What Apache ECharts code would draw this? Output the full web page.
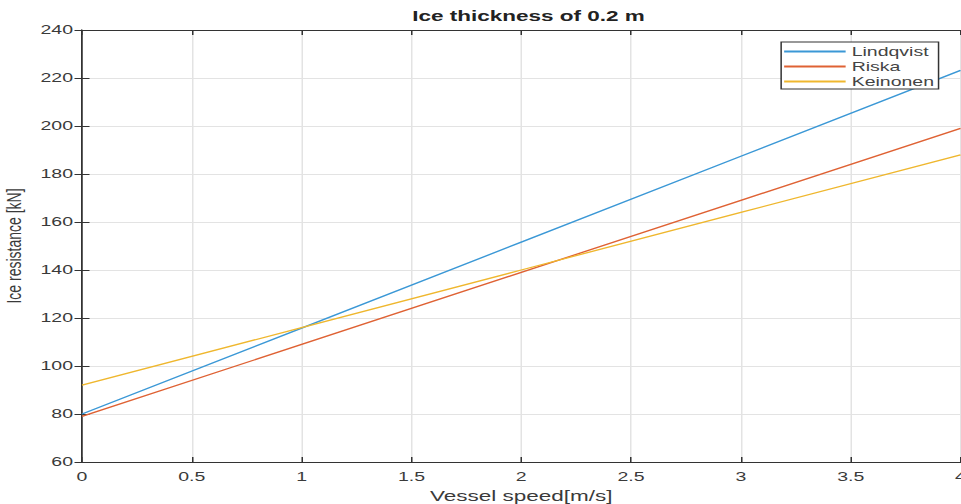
<!DOCTYPE html>
<html>
<head>
<meta charset="utf-8">
<script src="https://cdn.jsdelivr.net/npm/echarts@6/dist/echarts.min.js"></script>
<style>
  html, body { margin: 0; padding: 0; background: #fff; overflow: hidden; }
  /* The figure is laid out at 2/3 width and stretched horizontally to 961px */
  #chart {
    width: 640.667px; height: 504px;
    transform: scaleX(1.5); transform-origin: 0 0;
  }
</style>
</head>
<body>
<div id="chart"></div>
<script>
// Vessel speed [m/s]
const speeds = [0, 1, 2, 3, 4];
// Ice resistance [kN] per method
const lindqvist = [80, 115.8, 151.6, 187.4, 223.2];
const riska = [79, 109, 139, 169, 199];
const keinonen = [92, 116, 140, 164, 188];

const seriesNames = ['Lindqvist', 'Riska', 'Keinonen'];
const seriesValues = [lindqvist, riska, keinonen];
const seriesColors = ['#3b98d6', '#df6234', '#efb72e'];

const font = 'Liberation Sans, Arial, sans-serif';
const axisColor = '#333';
const labelColor = '#3a3a3a';
const gridColor = '#e3e3e3';

const chart = echarts.init(document.getElementById('chart'), null, { renderer: 'svg' });

const baseX = {
  type: 'value', min: 0, max: 4, interval: 0.5,
  axisLine: { show: true, lineStyle: { color: axisColor, width: 1 } },
  axisTick: { show: true, inside: true, length: 5, lineStyle: { color: axisColor } },
  splitLine: { show: false }
};
const baseY = {
  type: 'value', min: 60, max: 240, interval: 20,
  axisLine: { show: true, lineStyle: { color: axisColor, width: 1 } },
  axisTick: { show: true, inside: true, length: 5, lineStyle: { color: axisColor } },
  splitLine: { show: false }
};

chart.setOption({
  animation: false,
  title: {
    text: 'Ice thickness of 0.2 m',
    left: 347.3, top: 3, textAlign: 'center',
    textStyle: { fontFamily: font, fontSize: 15, fontWeight: 'bold', color: '#222' }
  },
  grid: {
    left: 54.67, right: 0.67, top: 30, bottom: 42,
    containLabel: false, outerBoundsMode: 'none', show: false
  },
  legend: {
    orient: 'vertical',
    right: 15.3, top: 42,
    itemWidth: 41, itemHeight: 2, itemGap: 0,
    padding: [2, 3, 0, 2],
    borderColor: '#333', borderWidth: 1, borderRadius: 0,
    backgroundColor: '#fff',
    icon: 'rect',
    textStyle: { fontFamily: font, fontSize: 13, lineHeight: 15, color: '#444', padding: [0, 0, 0, -1] },
    data: seriesNames
  },
  xAxis: [
    Object.assign({}, baseX, {
      position: 'bottom',
      name: 'Vessel speed[m/s]', nameLocation: 'middle', nameGap: 21,
      nameTextStyle: { fontFamily: font, fontSize: 15, color: labelColor },
      axisLabel: { fontFamily: font, fontSize: 13, color: labelColor, margin: 8 },
      splitLine: { show: true, lineStyle: { color: gridColor, width: 1 } }
    }),
    Object.assign({}, baseX, { position: 'top', axisLabel: { show: false } })
  ],
  yAxis: [
    Object.assign({}, baseY, {
      position: 'left',
      name: 'Ice resistance [kN]', nameLocation: 'middle', nameGap: 31.5,
      nameTextStyle: { fontFamily: font, fontSize: 14, color: labelColor },
      axisLabel: { fontFamily: font, fontSize: 13, color: labelColor, margin: 6 },
      splitLine: { show: true, lineStyle: { color: gridColor, width: 1 } }
    }),
    Object.assign({}, baseY, { position: 'right', axisLabel: { show: false } })
  ],
  series: seriesNames.map((name, i) => ({
    name: name,
    type: 'line',
    xAxisIndex: 0, yAxisIndex: 0,
    showSymbol: false,
    symbol: 'none',
    lineStyle: { color: seriesColors[i], width: 1.3 },
    itemStyle: { color: seriesColors[i] },
    data: speeds.map((s, k) => [s, seriesValues[i][k]])
  }))
});
</script>
</body>
</html>
